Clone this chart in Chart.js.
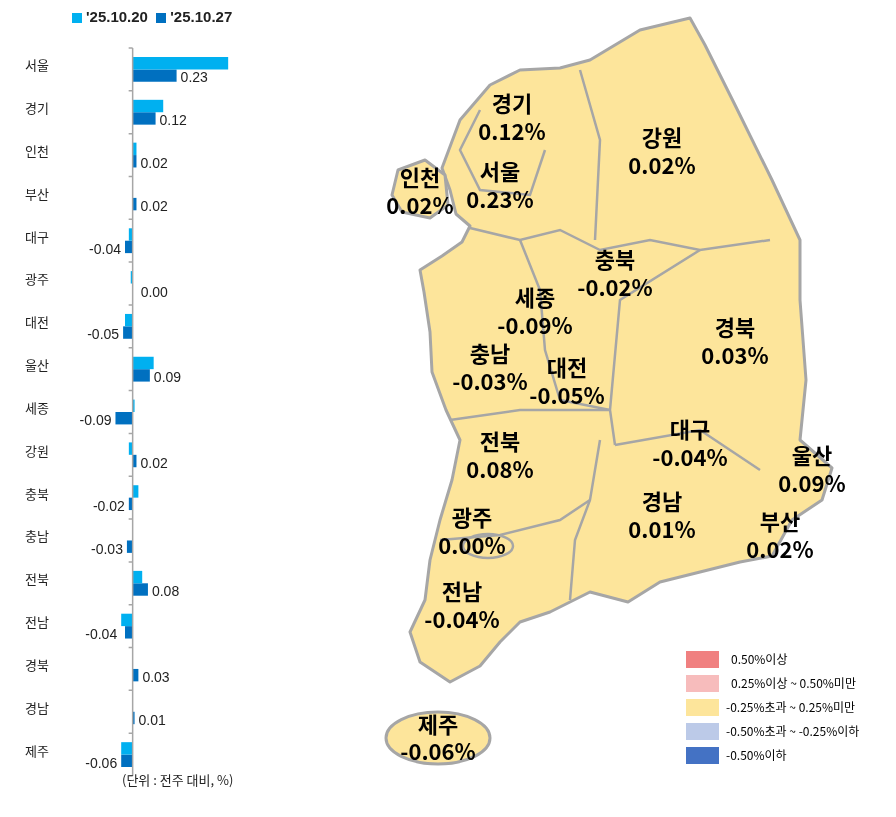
<!DOCTYPE html>
<html><head><meta charset="utf-8">
<script src="https://cdn.jsdelivr.net/npm/chart.js"></script>
<style>
body{margin:0;background:#fff;width:896px;height:817px;overflow:hidden;position:relative;font-family:"Noto Sans CJK KR",sans-serif}
#c{position:absolute;left:0;top:0}
#leg{position:absolute;left:72px;top:8px;font:bold 15px "Liberation Sans Narrow","Liberation Sans",sans-serif;color:#222}
#leg span.b{display:inline-block;width:10px;height:10px;margin-right:4px;vertical-align:-1px}
#note{position:absolute;left:122px;top:770px;font:13px "Noto Sans CJK KR";color:#222}
svg{position:absolute;left:0;top:0}
</style></head><body>
<canvas id="c" width="320" height="817"></canvas>
<div id="leg"><span class="b" style="background:#00b0f0"></span>'25.10.20 &nbsp;<span class="b" style="background:#0070c0"></span>'25.10.27</div>
<div id="note">(단위 : 전주 대비, %)</div>
<svg width="896" height="817" style="pointer-events:none">
<g fill="#fde59b" stroke="#a6a6a6" stroke-width="3" stroke-linejoin="round">
<path d="M460 120 L490 85 L520 70 L560 68 L590 60 L640 30 L690 18 L705 45 L735 105 L772 180 L800 240 L800 300 L806 380 L800 440 L832 468 L822 500 L792 520 L772 556 L740 562 L700 572 L660 582 L628 602 L590 592 L550 612 L520 622 L500 642 L480 666 L450 682 L420 662 L410 632 L425 600 L430 560 L440 520 L452 480 L460 440 L446 410 L432 372 L430 332 L424 292 L420 270 L442 256 L462 242 L470 226 L456 214 L450 190 L442 168 Z"/>
<path d="M398 170 L425 160 L445 175 L448 205 L430 218 L402 212 L392 195 Z"/>
<ellipse cx="438" cy="738" rx="52" ry="26"/>
</g>
<g fill="none" stroke="#a6a6a6" stroke-width="2.5">
<path d="M470 228 L520 240 L560 230 L600 250 L650 240 L700 250 L770 240"/>
<path d="M580 70 L600 140 L595 240"/>
<path d="M520 240 L540 290 L545 350 L560 400 L610 410"/>
<path d="M700 250 L620 300 L610 410 L615 445"/>
<path d="M450 420 L520 410 L610 410"/>
<path d="M600 440 L590 500 L575 540 L570 600"/>
<path d="M615 445 L700 430 L760 470"/>
<path d="M440 540 L500 535 L560 520 L590 500"/>
<path d="M480 110 L460 150 L480 190 L530 195 L545 150"/>
<ellipse cx="488" cy="546" rx="25" ry="12"/>
</g>
<g font-family="Liberation Sans Narrow,Noto Sans CJK KR" font-weight="bold" font-size="22" text-anchor="middle" fill="#000">
<text x="512" y="112">경기</text><text x="512" y="140">0.12%</text>
<text x="662" y="146">강원</text><text x="662" y="174">0.02%</text>
<text x="420" y="186">인천</text><text x="420" y="214">0.02%</text>
<text x="500" y="180">서울</text><text x="500" y="208">0.23%</text>
<text x="615" y="268">충북</text><text x="615" y="296">-0.02%</text>
<text x="535" y="306">세종</text><text x="535" y="334">-0.09%</text>
<text x="735" y="336">경북</text><text x="735" y="364">0.03%</text>
<text x="490" y="362">충남</text><text x="490" y="390">-0.03%</text>
<text x="567" y="376">대전</text><text x="567" y="404">-0.05%</text>
<text x="690" y="438">대구</text><text x="690" y="466">-0.04%</text>
<text x="812" y="464">울산</text><text x="812" y="492">0.09%</text>
<text x="500" y="450">전북</text><text x="500" y="478">0.08%</text>
<text x="662" y="510">경남</text><text x="662" y="538">0.01%</text>
<text x="780" y="530">부산</text><text x="780" y="558">0.02%</text>
<text x="472" y="526">광주</text><text x="472" y="554">0.00%</text>
<text x="462" y="600">전남</text><text x="462" y="628">-0.04%</text>
<text x="438" y="733">제주</text><text x="438" y="760">-0.06%</text>
</g>
<g font-family="Noto Sans CJK KR" font-size="12" fill="#000">
<rect x="686" y="651" width="33" height="17" fill="#f08080"/><text x="731" y="664">0.50%이상</text>
<rect x="686" y="675" width="33" height="17" fill="#f7bcbc"/><text x="731" y="688">0.25%이상 ~ 0.50%미만</text>
<rect x="686" y="699" width="33" height="17" fill="#fde59b"/><text x="726" y="712">-0.25%초과 ~ 0.25%미만</text>
<rect x="686" y="723" width="33" height="17" fill="#bccae8"/><text x="726" y="736">-0.50%초과 ~ -0.25%이하</text>
<rect x="686" y="747" width="33" height="17" fill="#4472c4"/><text x="726" y="760">-0.50%이하</text>
</g>
</svg>
<script>
const regions=['서울','경기','인천','부산','대구','광주','대전','울산','세종','강원','충북','충남','전북','전남','경북','경남','제주'];
const week1=[0.50,0.16,0.02,0.00,-0.02,-0.01,-0.04,0.11,0.01,-0.02,0.03,0.00,0.05,-0.06,0.00,0.00,-0.06];
const week2=[0.23,0.12,0.02,0.02,-0.04,0.00,-0.05,0.09,-0.09,0.02,-0.02,-0.03,0.08,-0.04,0.03,0.01,-0.06];
const deco={id:'deco',afterDraw(ch){
 const c=ch.ctx,y=ch.scales.y,x=ch.scales.x,x0=x.getPixelForValue(0);
 c.save();c.strokeStyle='#a6a6a6';c.lineWidth=1.5;
 c.beginPath();c.moveTo(x0,ch.chartArea.top);c.lineTo(x0,ch.chartArea.bottom);
 const st=(ch.chartArea.bottom-ch.chartArea.top)/regions.length;
 for(let i=0;i<=regions.length;i++){const yy=ch.chartArea.top+i*st;c.moveTo(x0-4,yy);c.lineTo(x0,yy);}
 c.stroke();
 c.fillStyle='#222';c.font='13px "Noto Sans CJK KR"';c.textBaseline='middle';c.textAlign='left';
 regions.forEach((r,i)=>c.fillText(r,25,y.getPixelForValue(i)-4));
 c.font='14px "Liberation Sans Narrow","Liberation Sans"';
 const m=ch.getDatasetMeta(1);
 m.data.forEach((b,i)=>{const v=week2[i];
  if(v>=0){c.textAlign='left';c.fillText(v.toFixed(2),Math.max(b.x,x0)+(v===0?8:4),b.y+3);}
  else{c.textAlign='right';c.fillText(v.toFixed(2),Math.min(b.x,x0-(week1[i]<v?x0-ch.getDatasetMeta(0).data[i].x:0))-4,b.y+3);}
 });
 c.restore();}};
new Chart(document.getElementById('c'),{type:'bar',
 data:{labels:regions,datasets:[
  {label:"'25.10.20",data:week1,backgroundColor:'#00b0f0'},
  {label:"'25.10.27",data:week2,backgroundColor:'#0070c0'}]},
 options:{indexAxis:'y',responsive:false,animation:false,
  layout:{padding:{left:104,right:20,top:48,bottom:41}},
  datasets:{bar:{categoryPercentage:0.58,barPercentage:1}},
  plugins:{legend:{display:false},tooltip:{enabled:false}},
  scales:{x:{min:-0.15,max:0.876,display:false},y:{display:false}}},
 plugins:[deco]});
</script></body></html>
